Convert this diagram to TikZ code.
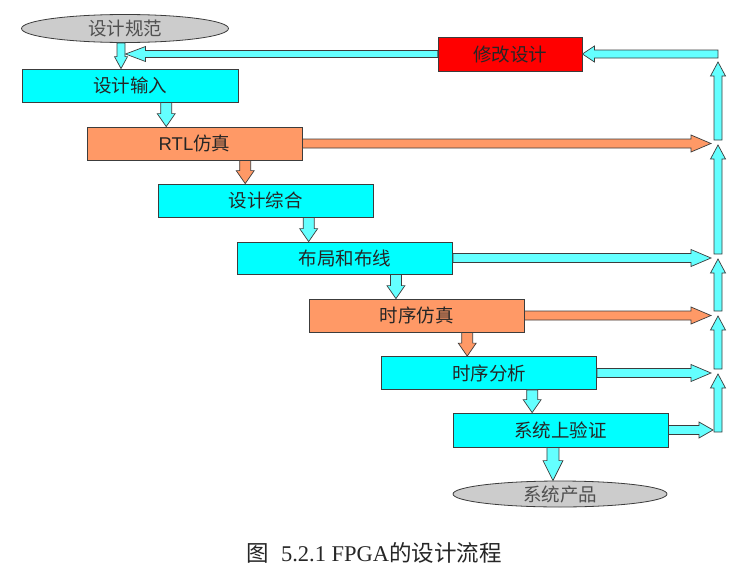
\documentclass[tikz,border=0pt]{standalone}
\usepackage{fontspec}
\setmainfont{Liberation Serif}
\newfontfamily\cjk{Noto Sans CJK SC}
\newfontfamily\arialf{Liberation Sans}
\usetikzlibrary{calc,shapes.geometric}
\definecolor{cyanbox}{RGB}{0,255,255}
\definecolor{cyanarr}{RGB}{100,255,255}
\definecolor{orangeb}{RGB}{255,153,102}
\definecolor{edgec}{RGB}{60,60,60}
\definecolor{ellg}{RGB}{204,204,204}
\definecolor{txtg}{RGB}{80,80,80}
\definecolor{redb}{RGB}{255,0,0}
% block arrow: #1 fill, #2 start, #3 tip, #4 shaft half width, #5 head half width, #6 head length
\newcommand\barr[6]{%
  \coordinate (hb) at ($(#3)!#6!(#2)$);
  \filldraw[blockarr, fill=#1] ($(#2)!#4!90:(#3)$) -- ($(hb)!#4!90:(#3)$) -- ($(hb)!#5!90:(#3)$) -- (#3) -- ($(hb)!#5!-90:(#3)$) -- ($(hb)!#4!-90:(#3)$) -- ($(#2)!#4!-90:(#3)$) -- cycle;}
\begin{document}
\begin{tikzpicture}[x=1pt,y=-1pt,
  blockarr/.style={draw=edgec, line width=0.7pt, line join=miter},
  box/.style={draw=edgec, line width=0.8pt, minimum width=215pt, minimum height=33pt, inner sep=0pt,
    font=\cjk\fontsize{18.5}{18.5}\selectfont, text=black!85},
  cbox/.style={box, fill=cyanbox},
  obox/.style={box, fill=orangeb},
  oval/.style={ellipse, draw=edgec, line width=0.8pt, fill=ellg, inner sep=0pt,
    font=\cjk\fontsize{18.5}{18.5}\selectfont, text=txtg}]
\useasboundingbox (0,0) rectangle (745,581);
\fill[white] (0,0) rectangle (745,581);

% nodes
\node[oval, minimum width=207pt, minimum height=28pt] (spec) at (125,28.5) {设计规范};
\node[cbox, minimum width=216pt] (in) at (130,85.5) {设计输入};
\node[obox] (rtl) at (194.5,143.5) {{\arialf RTL}仿真};
\node[cbox] (syn) at (265.5,200.5) {设计综合};
\node[cbox, minimum height=32pt] (pr) at (345,258) {布局和布线};
\node[obox] (tsim) at (416.5,315.5) {时序仿真};
\node[cbox] (ta) at (489,373) {时序分析};
\node[cbox, minimum height=34pt] (sys) at (560.5,430) {系统上验证};
\node[box, fill=redb, minimum width=144pt, minimum height=34pt] (mod) at (510,54) {修改设计};
\node[oval, minimum width=214pt, minimum height=26pt] (prod) at (560,494) {系统产品};

\node[font=\fontsize{22.5}{22.5}\selectfont, text=black!85] (cap) at (374,553) {{\cjk 图}\hspace{0.55em}5.2.1 FPGA{\cjk 的设计流程}};

% downward connectors
\coordinate (s1) at (121,0 |- spec.south);
\coordinate (e1) at (s1 |- in.north);
\barr{cyanarr}{s1}{e1}{4pt}{6.5pt}{12pt}

\coordinate (s2) at ($(in.south west)!0.667!(in.south east)$);
\coordinate (e2) at (s2 |- rtl.north);
\barr{cyanarr}{s2}{e2}{5.5pt}{9pt}{13pt}

\coordinate (s3) at ($(rtl.south west)!0.735!(rtl.south east)$);
\coordinate (e3) at (s3 |- syn.north);
\barr{orangeb}{s3}{e3}{5.5pt}{9pt}{13pt}

\coordinate (s4) at ($(syn.south west)!0.70!(syn.south east)$);
\coordinate (e4) at (s4 |- pr.north);
\barr{cyanarr}{s4}{e4}{5.5pt}{9pt}{13pt}

\coordinate (s5) at ($(pr.south west)!0.736!(pr.south east)$);
\coordinate (e5) at (s5 |- tsim.north);
\barr{cyanarr}{s5}{e5}{5.5pt}{9pt}{13pt}

\coordinate (s6) at ($(tsim.south west)!0.735!(tsim.south east)$);
\coordinate (e6) at (s6 |- ta.north);
\barr{orangeb}{s6}{e6}{5.5pt}{9pt}{13pt}

\coordinate (s7) at ($(ta.south west)!0.70!(ta.south east)$);
\coordinate (e7) at (s7 |- sys.north);
\barr{cyanarr}{s7}{e7}{5.5pt}{9pt}{13pt}

\coordinate (s8) at ($(sys.south west)!0.465!(sys.south east)$);
\coordinate (e8) at (s8 |- prod.north);
\barr{cyanarr}{s8}{e8}{6pt}{10pt}{20pt}

% right-hand arrows to the column
\coordinate (colL) at (711,0);
\coordinate (hr1) at (rtl.east -| colL);
\barr{orangeb}{rtl.east}{hr1}{4.5pt}{8.5pt}{20pt}
\coordinate (hr2) at (pr.east -| colL);
\barr{cyanarr}{pr.east}{hr2}{4.5pt}{8.5pt}{20pt}
\coordinate (hr3) at (tsim.east -| colL);
\barr{orangeb}{tsim.east}{hr3}{4.5pt}{8.5pt}{20pt}
\coordinate (hr4) at (ta.east -| colL);
\barr{cyanarr}{ta.east}{hr4}{4.5pt}{8.5pt}{20pt}
\coordinate (hr5) at ($(sys.east -| colL)+(2,0)$);
\barr{cyanarr}{sys.east}{hr5}{4.5pt}{8pt}{14pt}

% vertical column
\coordinate (v0) at (718,432);
\coordinate (v1) at (718,374);
\coordinate (v1b) at (718,369);
\coordinate (v2) at (718,316);
\coordinate (v2b) at (718,311);
\coordinate (v3) at (718,259);
\coordinate (v3b) at (718,254);
\coordinate (v4) at (718,145);
\coordinate (v4b) at (718,140);
\coordinate (v5) at (718,62);
\barr{cyanarr}{v0}{v1}{4pt}{7.5pt}{14pt}
\barr{cyanarr}{v1b}{v2}{4pt}{7.5pt}{14pt}
\barr{cyanarr}{v2b}{v3}{4pt}{7.5pt}{14pt}
\barr{cyanarr}{v3b}{v4}{4pt}{7.5pt}{14pt}
\barr{cyanarr}{v4b}{v5}{4pt}{7.5pt}{14pt}

% top feedback
\coordinate (tr) at (718,54);
\barr{cyanarr}{tr}{mod.east}{4pt}{8pt}{12pt}
\coordinate (tl) at (125.5,54 |- mod.west);
\barr{cyanarr}{mod.west}{tl}{3.5pt}{7.5pt}{20pt}
\end{tikzpicture}
\end{document}
